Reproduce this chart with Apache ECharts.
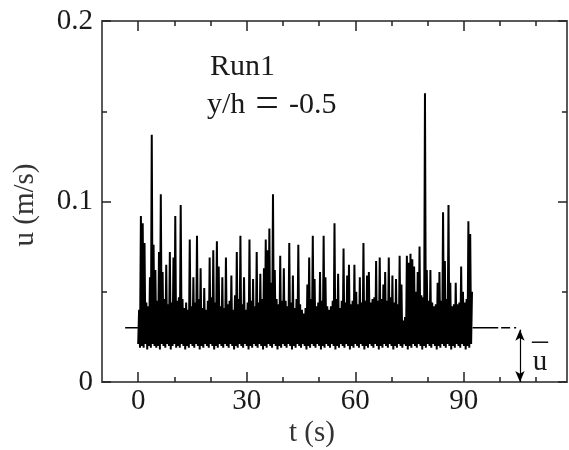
<!DOCTYPE html>
<html>
<head>
<meta charset="utf-8">
<script src="https://cdn.jsdelivr.net/npm/echarts@6/dist/echarts.min.js"></script>
<style>
html,body{margin:0;padding:0;background:#fff;}
#chart{width:569px;height:450px;}
</style>
</head>
<body>
<div id="chart"></div>
<script>
// ---- data ----
// velocity samples u in mm/s, one every sampleStep seconds starting at sampleStart
const sampleStart = 0;
const sampleStep = 0.25;
const uSignalMM = [
21,40,19,92,20,88,19,77,21,44,18,42,20,58,19,137,21,76,20,62,
19,45,20,72,18,104,21,61,20,46,19,65,21,43,20,72,18,44,20,69,
21,92,19,45,20,47,19,98,21,46,20,41,18,44,20,40,19,79,21,42,
20,58,19,44,21,81,20,46,18,63,20,41,19,52,21,40,20,45,19,69,
21,47,20,73,18,44,20,78,19,64,21,42,20,58,19,41,21,69,20,43,
19,45,21,59,20,40,18,48,20,72,19,46,21,81,20,43,19,58,21,40,
20,44,18,79,20,45,19,57,21,42,20,72,19,44,21,60,20,46,18,63,
20,79,19,73,21,85,20,55,19,104,21,62,20,46,18,43,20,70,19,45,
21,63,20,45,19,42,21,77,20,44,18,59,20,41,19,46,21,76,20,43,
19,40,21,38,20,41,18,54,20,69,19,46,21,81,20,57,19,42,21,44,
20,61,18,45,20,81,19,58,21,42,20,40,19,42,21,45,20,88,18,46,
20,60,19,41,21,45,20,74,19,44,21,59,20,65,18,43,20,45,19,65,
21,50,20,43,19,58,21,44,20,77,18,45,20,59,19,61,21,44,20,46,
19,47,21,67,20,45,18,69,20,46,19,54,21,61,20,45,19,69,21,47,
20,59,18,44,20,57,19,43,21,70,20,54,19,34,21,36,20,70,18,66,
20,71,19,68,21,64,20,50,19,61,21,75,20,48,18,47,20,160,19,62,
21,45,20,62,19,44,21,42,20,43,18,55,20,61,19,45,21,94,20,67,
19,46,21,98,20,55,18,42,20,43,19,55,21,43,20,44,19,64,21,50,
20,44,18,46,20,89,19,82,21,50
];
const meanU = 0.03;                 // mean velocity (m/s)
const meanStubT = [-3.6, 0];        // short solid stub left of signal
const meanSolidT = [92.4, 99.5];    // solid part right of signal
const meanDashT = [100.3, 105.5];   // dash-dot part
const arrowT = 105.5;               // position of the mean arrow
const arrowTop = 0.029;
const xMajorTicks = [0, 30, 60, 90];
const xMinorTicks = [10, 20, 40, 50, 70, 80, 100, 110];
const yMajorTicks = [0, 0.1, 0.2];
const yMinorTicks = [0.05, 0.15];
const xRange = [-10, 118.5];
const yRange = [0, 0.2];

// ---- build ----
const signal = uSignalMM.map((v, i) => [sampleStart + i * sampleStep, v / 1000]);
const FONT = 'Liberation Serif';
const AXC = '#5a5a5a';

function xAx(pos, major, showLine) {
  return {
    type: 'value', position: pos, min: xRange[0], max: xRange[1],
    axisLine: { show: showLine, onZero: false, lineStyle: { color: AXC, width: 2 } },
    axisTick: { show: true, inside: true, length: major ? 10 : 5, customValues: major ? xMajorTicks : xMinorTicks,
      lineStyle: { color: '#222', width: 1.5 } },
    axisLabel: (pos === 'bottom' && major) ? { show: true, customValues: xMajorTicks, margin: 5,
      fontFamily: FONT, fontSize: 29, color: '#1a1a1a' } : { show: false },
    splitLine: { show: false }
  };
}
function yAx(pos, major, showLine) {
  return {
    type: 'value', position: pos, min: yRange[0], max: yRange[1],
    axisLine: { show: showLine, onZero: false, lineStyle: { color: AXC, width: 2 } },
    axisTick: { show: true, inside: true, length: major ? 9 : 5, customValues: major ? yMajorTicks : yMinorTicks,
      lineStyle: { color: '#222', width: 1.5 } },
    axisLabel: (pos === 'left' && major) ? { show: true, customValues: yMajorTicks, margin: 9,
      fontFamily: FONT, fontSize: 29, color: '#1a1a1a' } : { show: false },
    splitLine: { show: false }
  };
}
function txt(opts, text, size, color, align) {
  return Object.assign({ type: 'text', style: { text: text, fontFamily: FONT, fontSize: size, fill: color,
    align: align || 'left', verticalAlign: 'middle' } }, opts);
}

const chart = echarts.init(document.getElementById('chart'), null, { renderer: 'canvas' });
chart.setOption({
  animation: false,
  backgroundColor: '#fff',
  grid: { left: 102, right: 2, top: 21, bottom: 68, containLabel: false },
  xAxis: [xAx('bottom', true, true), xAx('bottom', false, false), xAx('top', true, true), xAx('top', false, false)],
  yAxis: [yAx('left', true, true), yAx('left', false, false), yAx('right', true, true), yAx('right', false, false)],
  series: [
    { type: 'line', data: signal, showSymbol: false, symbol: 'none', sampling: null,
      lineStyle: { color: '#000', width: 2 }, z: 3 },
    { type: 'line', data: meanStubT.map(t => [t, meanU]), symbol: 'none', lineStyle: { color: '#000', width: 1.5 } },
    { type: 'line', data: meanSolidT.map(t => [t, meanU]), symbol: 'none', lineStyle: { color: '#000', width: 1.5 } },
    { type: 'line', data: meanDashT.map(t => [t, meanU]), symbol: 'none',
      lineStyle: { color: '#000', width: 1.5, type: [9, 4, 2, 4] },
      markLine: { silent: true, symbol: ['arrow', 'arrow'], symbolSize: [7, 11],
        label: { show: false }, lineStyle: { color: '#000', width: 1.2, type: 'solid' },
        data: [[{ coord: [arrowT, arrowTop] }, { coord: [arrowT, 0] }]] } }
  ],
  graphic: [
    txt({ x: 210, y: 67 }, 'Run1', 30, '#1a1a1a'),
    { type: 'text', x: 207, y: 105, style: {
        text: '{a|y/h}{b|=}{a|-0.5}', fontFamily: FONT, fontSize: 30, fill: '#1a1a1a', verticalAlign: 'middle',
        rich: {
          a: { fontFamily: FONT, fontSize: 30, lineHeight: 36, verticalAlign: 'middle', fill: '#1a1a1a' },
          b: { fontFamily: FONT, fontSize: 42, lineHeight: 36, verticalAlign: 'middle', fill: '#1a1a1a', padding: [0, 10, 0, 10] }
        } } },
    txt({ x: 312, y: 433 }, 't (s)', 29, '#333', 'center'),
    txt({ x: 25, y: 205, rotation: Math.PI / 2 }, 'u (m/s)', 29, '#333', 'center'),
    txt({ x: 540, y: 342 }, '\u2013', 32, '#1a1a1a', 'center'),
    txt({ x: 540, y: 362 }, 'u', 29, '#1a1a1a', 'center')
  ]
});
</script>
</body>
</html>
